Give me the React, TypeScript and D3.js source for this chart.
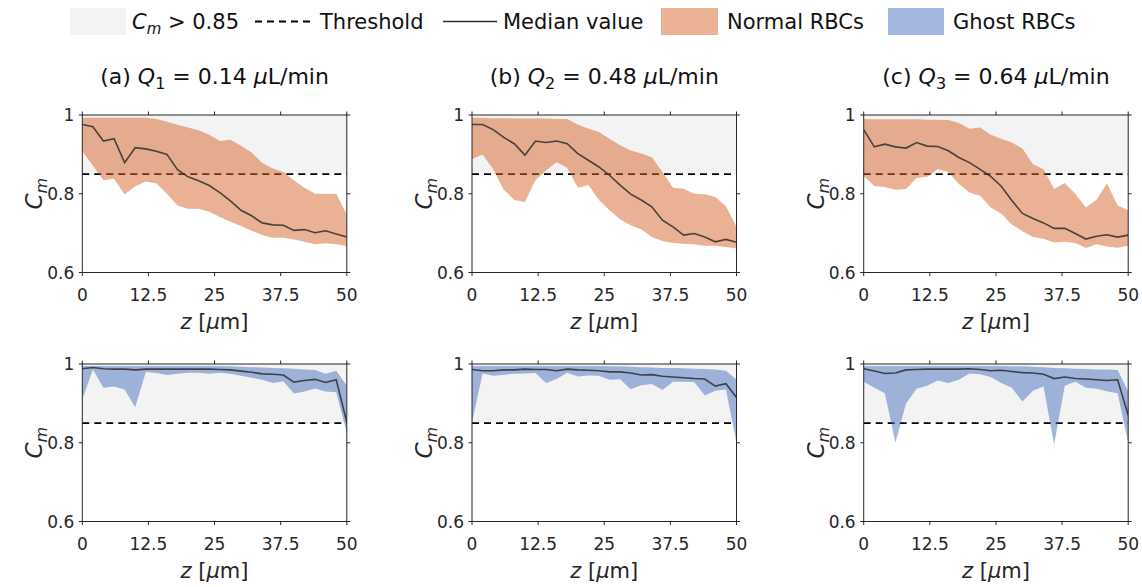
import React from 'react';
import * as d3 from 'd3';

const zValues = [0, 2, 4, 6, 8, 10, 12, 14, 16, 18, 20, 22, 24, 26, 28, 30, 32, 34, 36, 38, 40, 42, 44, 46, 48, 50];

// Normal RBCs (top row)
const medA = [0.976, 0.970, 0.934, 0.940, 0.879, 0.917, 0.914, 0.908, 0.900, 0.861, 0.843, 0.833, 0.821, 0.803, 0.782, 0.758, 0.744, 0.726, 0.721, 0.720, 0.707, 0.709, 0.701, 0.706, 0.698, 0.690];
const upA = [0.993, 0.993, 0.993, 0.993, 0.993, 0.993, 0.993, 0.990, 0.983, 0.975, 0.968, 0.961, 0.950, 0.934, 0.937, 0.922, 0.905, 0.879, 0.864, 0.855, 0.834, 0.815, 0.800, 0.800, 0.800, 0.747];
const lowA = [0.908, 0.872, 0.834, 0.838, 0.798, 0.819, 0.831, 0.826, 0.800, 0.770, 0.762, 0.762, 0.754, 0.741, 0.729, 0.718, 0.706, 0.695, 0.688, 0.688, 0.684, 0.678, 0.672, 0.674, 0.672, 0.667];

const medB = [0.976, 0.976, 0.963, 0.943, 0.927, 0.898, 0.934, 0.930, 0.934, 0.927, 0.902, 0.885, 0.868, 0.847, 0.822, 0.799, 0.784, 0.767, 0.733, 0.716, 0.695, 0.699, 0.690, 0.678, 0.684, 0.677];
const upB = [0.993, 0.993, 0.992, 0.992, 0.991, 0.991, 0.991, 0.991, 0.990, 0.990, 0.976, 0.965, 0.957, 0.940, 0.923, 0.910, 0.902, 0.893, 0.855, 0.815, 0.813, 0.800, 0.799, 0.792, 0.768, 0.716];
const lowB = [0.888, 0.900, 0.862, 0.810, 0.784, 0.779, 0.834, 0.860, 0.880, 0.866, 0.815, 0.822, 0.784, 0.758, 0.735, 0.720, 0.710, 0.690, 0.680, 0.675, 0.673, 0.672, 0.668, 0.668, 0.665, 0.661];

const medC = [0.963, 0.919, 0.926, 0.919, 0.916, 0.930, 0.921, 0.920, 0.909, 0.892, 0.879, 0.862, 0.844, 0.819, 0.783, 0.750, 0.737, 0.726, 0.712, 0.712, 0.699, 0.685, 0.692, 0.696, 0.690, 0.695];
const upC = [0.990, 0.989, 0.989, 0.989, 0.989, 0.989, 0.988, 0.988, 0.987, 0.980, 0.965, 0.968, 0.950, 0.940, 0.930, 0.915, 0.875, 0.862, 0.812, 0.827, 0.800, 0.765, 0.785, 0.826, 0.770, 0.758];
const lowC = [0.845, 0.820, 0.817, 0.810, 0.812, 0.840, 0.843, 0.863, 0.855, 0.825, 0.803, 0.795, 0.765, 0.750, 0.722, 0.705, 0.690, 0.686, 0.676, 0.678, 0.675, 0.662, 0.672, 0.666, 0.663, 0.668];

// Ghost RBCs (bottom row)
const gMedA = [0.988, 0.991, 0.988, 0.987, 0.987, 0.985, 0.987, 0.987, 0.987, 0.987, 0.987, 0.987, 0.987, 0.986, 0.985, 0.982, 0.979, 0.975, 0.974, 0.972, 0.954, 0.958, 0.961, 0.953, 0.960, 0.852];
const gUpA = [0.995, 0.995, 0.995, 0.995, 0.995, 0.995, 0.995, 0.995, 0.995, 0.995, 0.995, 0.995, 0.995, 0.995, 0.994, 0.993, 0.992, 0.991, 0.990, 0.989, 0.988, 0.986, 0.985, 0.975, 0.983, 0.945];
const gLowA = [0.910, 0.986, 0.940, 0.943, 0.935, 0.890, 0.980, 0.977, 0.972, 0.975, 0.978, 0.978, 0.975, 0.978, 0.975, 0.970, 0.965, 0.960, 0.952, 0.956, 0.925, 0.930, 0.938, 0.930, 0.928, 0.825];

const gMedB = [0.986, 0.983, 0.983, 0.985, 0.985, 0.987, 0.986, 0.986, 0.983, 0.987, 0.985, 0.984, 0.983, 0.980, 0.980, 0.977, 0.972, 0.973, 0.969, 0.967, 0.965, 0.963, 0.962, 0.944, 0.950, 0.915];
const gUpB = [0.995, 0.995, 0.995, 0.995, 0.995, 0.995, 0.995, 0.995, 0.995, 0.995, 0.995, 0.995, 0.995, 0.994, 0.994, 0.993, 0.992, 0.991, 0.990, 0.990, 0.989, 0.988, 0.987, 0.986, 0.983, 0.960];
const gLowB = [0.852, 0.976, 0.970, 0.973, 0.975, 0.976, 0.977, 0.952, 0.962, 0.978, 0.968, 0.971, 0.970, 0.960, 0.961, 0.936, 0.946, 0.949, 0.934, 0.955, 0.955, 0.954, 0.920, 0.932, 0.935, 0.800];

const gMedC = [0.988, 0.982, 0.976, 0.977, 0.985, 0.986, 0.987, 0.987, 0.987, 0.987, 0.988, 0.986, 0.983, 0.984, 0.981, 0.978, 0.977, 0.974, 0.963, 0.967, 0.963, 0.962, 0.960, 0.958, 0.960, 0.870];
const gUpC = [0.995, 0.995, 0.995, 0.995, 0.995, 0.995, 0.995, 0.995, 0.995, 0.995, 0.995, 0.995, 0.995, 0.995, 0.994, 0.994, 0.993, 0.992, 0.990, 0.989, 0.988, 0.987, 0.986, 0.986, 0.985, 0.930];
const gLowC = [0.955, 0.940, 0.926, 0.800, 0.900, 0.937, 0.945, 0.958, 0.952, 0.960, 0.976, 0.974, 0.967, 0.952, 0.940, 0.905, 0.932, 0.943, 0.795, 0.945, 0.955, 0.940, 0.937, 0.931, 0.926, 0.800];

const xTicks = [0, 12.5, 25, 37.5, 50];
const yTicks = [0.6, 0.8, 1];
const threshold = 0.85;
const panelLetters = ['a', 'b', 'c'];
const flowSub = ['1', '2', '3'];
const flowValues = ['0.14', '0.48', '0.64'];

const FONT = "'DejaVu Sans', sans-serif";
const GREY = '#f2f3f2';
const ORANGE = '#d86329';
const BLUE = '#4770c0';
const BAND_OPACITY = 0.5;

const panelLefts = [82.3, 472, 863.7];
const panelW = 264.5;
const rowTops = [115, 364];
const panelH = 157.5;

type Series = { med: number[]; up: number[]; low: number[] };
const normal: Series[] = [
  { med: medA, up: upA, low: lowA },
  { med: medB, up: upB, low: lowB },
  { med: medC, up: upC, low: lowC },
];
const ghost: Series[] = [
  { med: gMedA, up: gUpA, low: gLowA },
  { med: gMedB, up: gUpB, low: gLowB },
  { med: gMedC, up: gUpC, low: gLowC },
];

const tStyle = { fontFamily: FONT } as React.CSSProperties;

function Panel({ left, top, s, color, title, idx }: { left: number; top: number; s: Series; color: string; title: boolean; idx: number }) {
  const x = d3.scaleLinear().domain([0, 50]).range([left, left + panelW]);
  const y = d3.scaleLinear().domain([0.6, 1]).range([top + panelH, top]);
  const pts = zValues.map((z, i) => ({ z, m: s.med[i], u: s.up[i], l: s.low[i] }));
  const area = d3.area<any>().x(d => x(d.z)).y0(d => y(d.l)).y1(d => y(d.u));
  const line = d3.line<any>().x(d => x(d.z)).y(d => y(d.m));
  const tl = 3.5;
  const fs = 17;
  const clipId = `clip-${idx}-${top}`;
  return (
    <g>
      <defs>
        <clipPath id={clipId}>
          <rect x={left} y={top} width={panelW} height={panelH} />
        </clipPath>
      </defs>
      <rect x={left} y={y(1)} width={panelW} height={y(threshold) - y(1)} fill={GREY} />
      <line x1={x(0)} x2={x(50)} y1={y(threshold)} y2={y(threshold)} stroke="#000" strokeWidth={1.8} strokeDasharray="7,5" />
      <g clipPath={`url(#${clipId})`}>
        <path d={area(pts) || ''} fill={color} fillOpacity={BAND_OPACITY} stroke="none" />
        <path d={line(pts) || ''} fill="none" stroke="#2e2e2e" strokeOpacity={0.85} strokeWidth={1.6} />
      </g>
      <rect x={left} y={top} width={panelW} height={panelH} fill="none" stroke="#262626" strokeWidth={1} />
      {xTicks.map(t => (
        <g key={'x' + t}>
          <line x1={x(t)} x2={x(t)} y1={top + panelH} y2={top + panelH + tl} stroke="#262626" />
          <line x1={x(t)} x2={x(t)} y1={top} y2={top - tl} stroke="#262626" />
          <text x={x(t)} y={top + panelH + 28} textAnchor="middle" style={tStyle} fontSize={fs} fill="#262626">{t}</text>
        </g>
      ))}
      {yTicks.map(t => (
        <g key={'y' + t}>
          <line x1={left} x2={left - tl} y1={y(t)} y2={y(t)} stroke="#262626" />
          <line x1={left + panelW} x2={left + panelW + tl} y1={y(t)} y2={y(t)} stroke="#262626" />
          <text x={left - 8} y={y(t) + 6} textAnchor="end" style={tStyle} fontSize={fs} fill="#262626">{t === 1 ? '1' : t.toFixed(1)}</text>
        </g>
      ))}
      <text x={left + panelW / 2} y={top + panelH + 56} textAnchor="middle" style={tStyle} fontSize={21} fill="#262626">
        <tspan fontStyle="italic">z</tspan>
        <tspan> [</tspan>
        <tspan fontStyle="italic">μ</tspan>
        <tspan>m]</tspan>
      </text>
      <text transform={`translate(${left - 40},${top + panelH / 2}) rotate(-90)`} textAnchor="middle" style={tStyle} fontSize={23} fill="#262626">
        <tspan fontStyle="italic">C</tspan>
        <tspan fontStyle="italic" fontSize={16} dy={5}>m</tspan>
      </text>
      {title && (
        <text x={left + panelW / 2} y={84} textAnchor="middle" style={tStyle} fontSize={22} fill="#111">
          <tspan>({panelLetters[idx]}) </tspan>
          <tspan fontStyle="italic">Q</tspan>
          <tspan fontSize={16} dy={5}>{flowSub[idx]}</tspan>
          <tspan dy={-5}> = {flowValues[idx]} </tspan>
          <tspan fontStyle="italic">μ</tspan>
          <tspan>L/min</tspan>
        </text>
      )}
    </g>
  );
}

function Legend() {
  const fs = 21;
  const ty = 29;
  return (
    <g style={tStyle} fontSize={fs} fill="#111">
      <rect x={70} y={8} width={56} height={27} fill={GREY} />
      <text x={132} y={ty} style={tStyle}>
        <tspan fontStyle="italic">C</tspan>
        <tspan fontStyle="italic" fontSize={15} dy={5}>m</tspan>
        <tspan dy={-5}> &gt; 0.85</tspan>
      </text>
      <line x1={255} x2={312} y1={21.5} y2={21.5} stroke="#000" strokeWidth={1.8} strokeDasharray="7,5" />
      <text x={320} y={ty} style={tStyle}>Threshold</text>
      <line x1={443} x2={497} y1={21.5} y2={21.5} stroke="#2e2e2e" strokeWidth={1.5} />
      <text x={503} y={ty} style={tStyle}>Median value</text>
      <rect x={661} y={8} width={57} height={27} fill={ORANGE} fillOpacity={BAND_OPACITY} />
      <text x={727} y={ty} style={tStyle}>Normal RBCs</text>
      <rect x={888} y={8} width={56} height={27} fill={BLUE} fillOpacity={BAND_OPACITY} />
      <text x={953} y={ty} style={tStyle}>Ghost RBCs</text>
    </g>
  );
}

export default function App() {
  return (
    <svg width={1142} height={587} style={{ position: 'absolute', left: 0, top: 0, background: '#fff' }}>
      <rect x={0} y={0} width={1142} height={587} fill="#fff" />
      <Legend />
      {normal.map((s, i) => (
        <Panel key={'n' + i} left={panelLefts[i]} top={rowTops[0]} s={s} color={ORANGE} title={true} idx={i} />
      ))}
      {ghost.map((s, i) => (
        <Panel key={'g' + i} left={panelLefts[i]} top={rowTops[1]} s={s} color={BLUE} title={false} idx={i} />
      ))}
    </svg>
  );
}
